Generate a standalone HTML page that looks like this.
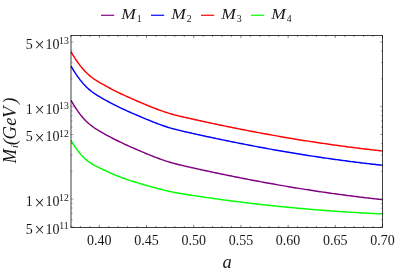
<!DOCTYPE html>
<html><head><meta charset="utf-8"><title>plot</title>
<style>
html,body{margin:0;padding:0;background:#fff;}
svg{display:block;font-family:"Liberation Serif",serif;}
</style></head><body>
<svg width="395" height="276" viewBox="0 0 395 276">
<defs><filter id="nf" x="0" y="0" width="100%" height="100%" filterUnits="userSpaceOnUse" color-interpolation-filters="sRGB"><feOffset dx="0" dy="0"/></filter></defs>
<rect width="395" height="276" fill="#fff"/>
<g fill="none" stroke-width="1.45" stroke-linejoin="round" stroke-linecap="butt">
<path d="M71.0,100.46 L72.5,102.99 L74.0,105.41 L75.5,107.74 L77.0,109.96 L78.5,112.08 L80.0,114.09 L81.5,115.99 L83.0,117.78 L84.5,119.45 L86.0,121.01 L87.5,122.45 L89.0,123.78 L90.5,125.02 L92.0,126.18 L93.5,127.26 L95.0,128.28 L96.5,129.25 L98.0,130.18 L99.5,131.08 L101.0,131.96 L102.5,132.83 L104.0,133.68 L105.5,134.51 L107.0,135.34 L108.5,136.15 L110.0,136.94 L111.5,137.73 L113.0,138.50 L114.5,139.27 L116.0,140.02 L117.5,140.76 L119.0,141.49 L120.5,142.21 L122.0,142.93 L123.5,143.63 L125.0,144.33 L126.5,145.02 L128.0,145.70 L129.5,146.37 L131.0,147.04 L132.5,147.70 L134.0,148.36 L135.5,149.01 L137.0,149.66 L138.5,150.30 L140.0,150.94 L141.5,151.57 L143.0,152.20 L144.5,152.83 L146.0,153.46 L147.5,154.08 L149.0,154.69 L150.5,155.30 L152.0,155.91 L153.5,156.50 L155.0,157.09 L156.5,157.67 L158.0,158.23 L159.5,158.79 L161.0,159.33 L162.5,159.87 L164.0,160.38 L165.5,160.89 L167.0,161.37 L168.5,161.84 L170.0,162.30 L171.5,162.73 L173.0,163.15 L174.5,163.56 L176.0,163.95 L177.5,164.32 L179.0,164.69 L180.5,165.05 L182.0,165.40 L183.5,165.75 L185.0,166.09 L186.5,166.43 L188.0,166.77 L189.5,167.11 L191.0,167.45 L192.5,167.78 L194.0,168.12 L195.5,168.45 L197.0,168.78 L198.5,169.11 L200.0,169.44 L201.5,169.77 L203.0,170.10 L204.5,170.42 L206.0,170.75 L207.5,171.07 L209.0,171.40 L210.5,171.72 L212.0,172.04 L213.5,172.36 L215.0,172.67 L216.5,172.99 L218.0,173.30 L219.5,173.62 L221.0,173.93 L222.5,174.24 L224.0,174.55 L225.5,174.86 L227.0,175.17 L228.5,175.48 L230.0,175.78 L231.5,176.08 L233.0,176.39 L234.5,176.69 L236.0,176.99 L237.5,177.29 L239.0,177.58 L240.5,177.88 L242.0,178.18 L243.5,178.47 L245.0,178.76 L246.5,179.05 L248.0,179.34 L249.5,179.63 L251.0,179.92 L252.5,180.20 L254.0,180.49 L255.5,180.77 L257.0,181.05 L258.5,181.33 L260.0,181.61 L261.5,181.89 L263.0,182.17 L264.5,182.44 L266.0,182.72 L267.5,182.99 L269.0,183.26 L270.5,183.53 L272.0,183.80 L273.5,184.07 L275.0,184.33 L276.5,184.60 L278.0,184.86 L279.5,185.12 L281.0,185.38 L282.5,185.64 L284.0,185.90 L285.5,186.15 L287.0,186.41 L288.5,186.66 L290.0,186.91 L291.5,187.17 L293.0,187.41 L294.5,187.66 L296.0,187.91 L297.5,188.15 L299.0,188.40 L300.5,188.64 L302.0,188.88 L303.5,189.12 L305.0,189.36 L306.5,189.60 L308.0,189.83 L309.5,190.06 L311.0,190.30 L312.5,190.53 L314.0,190.76 L315.5,190.98 L317.0,191.21 L318.5,191.44 L320.0,191.66 L321.5,191.88 L323.0,192.10 L324.5,192.32 L326.0,192.54 L327.5,192.76 L329.0,192.97 L330.5,193.19 L332.0,193.40 L333.5,193.61 L335.0,193.82 L336.5,194.03 L338.0,194.23 L339.5,194.44 L341.0,194.64 L342.5,194.84 L344.0,195.04 L345.5,195.24 L347.0,195.44 L348.5,195.63 L350.0,195.83 L351.5,196.02 L353.0,196.21 L354.5,196.40 L356.0,196.59 L357.5,196.77 L359.0,196.96 L360.5,197.14 L362.0,197.33 L363.5,197.51 L365.0,197.68 L366.5,197.86 L368.0,198.04 L369.5,198.21 L371.0,198.38 L372.5,198.56 L374.0,198.73 L375.5,198.89 L377.0,199.06 L378.5,199.23 L380.0,199.39 L381.5,199.55 L382.5,199.66" stroke="#800080"/>
<path d="M71.0,66.06 L72.5,68.59 L74.0,71.01 L75.5,73.34 L77.0,75.56 L78.5,77.68 L80.0,79.69 L81.5,81.59 L83.0,83.38 L84.5,85.05 L86.0,86.61 L87.5,88.05 L89.0,89.38 L90.5,90.62 L92.0,91.78 L93.5,92.86 L95.0,93.88 L96.5,94.85 L98.0,95.78 L99.5,96.68 L101.0,97.56 L102.5,98.43 L104.0,99.28 L105.5,100.11 L107.0,100.94 L108.5,101.75 L110.0,102.54 L111.5,103.33 L113.0,104.10 L114.5,104.87 L116.0,105.62 L117.5,106.36 L119.0,107.09 L120.5,107.81 L122.0,108.53 L123.5,109.23 L125.0,109.93 L126.5,110.62 L128.0,111.30 L129.5,111.97 L131.0,112.64 L132.5,113.30 L134.0,113.96 L135.5,114.61 L137.0,115.26 L138.5,115.90 L140.0,116.54 L141.5,117.17 L143.0,117.80 L144.5,118.43 L146.0,119.06 L147.5,119.68 L149.0,120.29 L150.5,120.90 L152.0,121.51 L153.5,122.10 L155.0,122.69 L156.5,123.27 L158.0,123.83 L159.5,124.39 L161.0,124.93 L162.5,125.47 L164.0,125.98 L165.5,126.49 L167.0,126.97 L168.5,127.44 L170.0,127.90 L171.5,128.33 L173.0,128.75 L174.5,129.16 L176.0,129.55 L177.5,129.92 L179.0,130.29 L180.5,130.65 L182.0,131.00 L183.5,131.35 L185.0,131.69 L186.5,132.03 L188.0,132.37 L189.5,132.71 L191.0,133.05 L192.5,133.38 L194.0,133.72 L195.5,134.05 L197.0,134.38 L198.5,134.71 L200.0,135.04 L201.5,135.37 L203.0,135.70 L204.5,136.02 L206.0,136.35 L207.5,136.67 L209.0,137.00 L210.5,137.32 L212.0,137.64 L213.5,137.96 L215.0,138.27 L216.5,138.59 L218.0,138.90 L219.5,139.22 L221.0,139.53 L222.5,139.84 L224.0,140.15 L225.5,140.46 L227.0,140.77 L228.5,141.08 L230.0,141.38 L231.5,141.68 L233.0,141.99 L234.5,142.29 L236.0,142.59 L237.5,142.89 L239.0,143.18 L240.5,143.48 L242.0,143.78 L243.5,144.07 L245.0,144.36 L246.5,144.65 L248.0,144.94 L249.5,145.23 L251.0,145.52 L252.5,145.80 L254.0,146.09 L255.5,146.37 L257.0,146.65 L258.5,146.93 L260.0,147.21 L261.5,147.49 L263.0,147.77 L264.5,148.04 L266.0,148.32 L267.5,148.59 L269.0,148.86 L270.5,149.13 L272.0,149.40 L273.5,149.67 L275.0,149.93 L276.5,150.20 L278.0,150.46 L279.5,150.72 L281.0,150.98 L282.5,151.24 L284.0,151.50 L285.5,151.75 L287.0,152.01 L288.5,152.26 L290.0,152.51 L291.5,152.77 L293.0,153.01 L294.5,153.26 L296.0,153.51 L297.5,153.75 L299.0,154.00 L300.5,154.24 L302.0,154.48 L303.5,154.72 L305.0,154.96 L306.5,155.20 L308.0,155.43 L309.5,155.66 L311.0,155.90 L312.5,156.13 L314.0,156.36 L315.5,156.58 L317.0,156.81 L318.5,157.04 L320.0,157.26 L321.5,157.48 L323.0,157.70 L324.5,157.92 L326.0,158.14 L327.5,158.36 L329.0,158.57 L330.5,158.79 L332.0,159.00 L333.5,159.21 L335.0,159.42 L336.5,159.63 L338.0,159.83 L339.5,160.04 L341.0,160.24 L342.5,160.44 L344.0,160.64 L345.5,160.84 L347.0,161.04 L348.5,161.23 L350.0,161.43 L351.5,161.62 L353.0,161.81 L354.5,162.00 L356.0,162.19 L357.5,162.37 L359.0,162.56 L360.5,162.74 L362.0,162.93 L363.5,163.11 L365.0,163.28 L366.5,163.46 L368.0,163.64 L369.5,163.81 L371.0,163.98 L372.5,164.16 L374.0,164.33 L375.5,164.49 L377.0,164.66 L378.5,164.83 L380.0,164.99 L381.5,165.15 L382.5,165.26" stroke="#0000ff"/>
<path d="M71.0,51.76 L72.5,54.29 L74.0,56.71 L75.5,59.04 L77.0,61.26 L78.5,63.38 L80.0,65.39 L81.5,67.29 L83.0,69.08 L84.5,70.75 L86.0,72.31 L87.5,73.75 L89.0,75.08 L90.5,76.32 L92.0,77.48 L93.5,78.56 L95.0,79.58 L96.5,80.55 L98.0,81.48 L99.5,82.38 L101.0,83.26 L102.5,84.13 L104.0,84.98 L105.5,85.81 L107.0,86.64 L108.5,87.45 L110.0,88.24 L111.5,89.03 L113.0,89.80 L114.5,90.57 L116.0,91.32 L117.5,92.06 L119.0,92.79 L120.5,93.51 L122.0,94.23 L123.5,94.93 L125.0,95.63 L126.5,96.32 L128.0,97.00 L129.5,97.67 L131.0,98.34 L132.5,99.00 L134.0,99.66 L135.5,100.31 L137.0,100.96 L138.5,101.60 L140.0,102.24 L141.5,102.87 L143.0,103.50 L144.5,104.13 L146.0,104.76 L147.5,105.38 L149.0,105.99 L150.5,106.60 L152.0,107.21 L153.5,107.80 L155.0,108.39 L156.5,108.97 L158.0,109.53 L159.5,110.09 L161.0,110.63 L162.5,111.17 L164.0,111.68 L165.5,112.19 L167.0,112.67 L168.5,113.14 L170.0,113.60 L171.5,114.03 L173.0,114.45 L174.5,114.86 L176.0,115.25 L177.5,115.62 L179.0,115.99 L180.5,116.35 L182.0,116.70 L183.5,117.05 L185.0,117.39 L186.5,117.73 L188.0,118.07 L189.5,118.41 L191.0,118.75 L192.5,119.08 L194.0,119.42 L195.5,119.75 L197.0,120.08 L198.5,120.41 L200.0,120.74 L201.5,121.07 L203.0,121.40 L204.5,121.72 L206.0,122.05 L207.5,122.37 L209.0,122.70 L210.5,123.02 L212.0,123.34 L213.5,123.66 L215.0,123.97 L216.5,124.29 L218.0,124.60 L219.5,124.92 L221.0,125.23 L222.5,125.54 L224.0,125.85 L225.5,126.16 L227.0,126.47 L228.5,126.78 L230.0,127.08 L231.5,127.38 L233.0,127.69 L234.5,127.99 L236.0,128.29 L237.5,128.59 L239.0,128.88 L240.5,129.18 L242.0,129.48 L243.5,129.77 L245.0,130.06 L246.5,130.35 L248.0,130.64 L249.5,130.93 L251.0,131.22 L252.5,131.50 L254.0,131.79 L255.5,132.07 L257.0,132.35 L258.5,132.63 L260.0,132.91 L261.5,133.19 L263.0,133.47 L264.5,133.74 L266.0,134.02 L267.5,134.29 L269.0,134.56 L270.5,134.83 L272.0,135.10 L273.5,135.37 L275.0,135.63 L276.5,135.90 L278.0,136.16 L279.5,136.42 L281.0,136.68 L282.5,136.94 L284.0,137.20 L285.5,137.45 L287.0,137.71 L288.5,137.96 L290.0,138.21 L291.5,138.47 L293.0,138.71 L294.5,138.96 L296.0,139.21 L297.5,139.45 L299.0,139.70 L300.5,139.94 L302.0,140.18 L303.5,140.42 L305.0,140.66 L306.5,140.90 L308.0,141.13 L309.5,141.36 L311.0,141.60 L312.5,141.83 L314.0,142.06 L315.5,142.28 L317.0,142.51 L318.5,142.74 L320.0,142.96 L321.5,143.18 L323.0,143.40 L324.5,143.62 L326.0,143.84 L327.5,144.06 L329.0,144.27 L330.5,144.49 L332.0,144.70 L333.5,144.91 L335.0,145.12 L336.5,145.33 L338.0,145.53 L339.5,145.74 L341.0,145.94 L342.5,146.14 L344.0,146.34 L345.5,146.54 L347.0,146.74 L348.5,146.93 L350.0,147.13 L351.5,147.32 L353.0,147.51 L354.5,147.70 L356.0,147.89 L357.5,148.07 L359.0,148.26 L360.5,148.44 L362.0,148.63 L363.5,148.81 L365.0,148.98 L366.5,149.16 L368.0,149.34 L369.5,149.51 L371.0,149.68 L372.5,149.86 L374.0,150.03 L375.5,150.19 L377.0,150.36 L378.5,150.53 L380.0,150.69 L381.5,150.85 L382.5,150.96" stroke="#ff0000"/>
<path d="M71.0,140.41 L72.5,142.89 L74.0,145.25 L75.5,147.48 L77.0,149.59 L78.5,151.57 L80.0,153.42 L81.5,155.15 L83.0,156.75 L84.5,158.23 L86.0,159.59 L87.5,160.83 L89.0,161.96 L90.5,162.98 L92.0,163.91 L93.5,164.77 L95.0,165.58 L96.5,166.34 L98.0,167.08 L99.5,167.81 L101.0,168.54 L102.5,169.27 L104.0,169.99 L105.5,170.70 L107.0,171.40 L108.5,172.10 L110.0,172.78 L111.5,173.46 L113.0,174.11 L114.5,174.76 L116.0,175.38 L117.5,175.99 L119.0,176.58 L120.5,177.16 L122.0,177.72 L123.5,178.27 L125.0,178.80 L126.5,179.32 L128.0,179.83 L129.5,180.33 L131.0,180.82 L132.5,181.29 L134.0,181.76 L135.5,182.23 L137.0,182.68 L138.5,183.13 L140.0,183.57 L141.5,184.01 L143.0,184.44 L144.5,184.87 L146.0,185.30 L147.5,185.73 L149.0,186.15 L150.5,186.58 L152.0,186.99 L153.5,187.41 L155.0,187.82 L156.5,188.22 L158.0,188.62 L159.5,189.01 L161.0,189.39 L162.5,189.77 L164.0,190.14 L165.5,190.50 L167.0,190.85 L168.5,191.19 L170.0,191.52 L171.5,191.84 L173.0,192.15 L174.5,192.45 L176.0,192.73 L177.5,193.01 L179.0,193.27 L180.5,193.53 L182.0,193.78 L183.5,194.03 L185.0,194.26 L186.5,194.50 L188.0,194.73 L189.5,194.97 L191.0,195.20 L192.5,195.42 L194.0,195.65 L195.5,195.88 L197.0,196.10 L198.5,196.33 L200.0,196.55 L201.5,196.77 L203.0,196.99 L204.5,197.21 L206.0,197.42 L207.5,197.64 L209.0,197.85 L210.5,198.07 L212.0,198.28 L213.5,198.49 L215.0,198.70 L216.5,198.90 L218.0,199.11 L219.5,199.31 L221.0,199.52 L222.5,199.72 L224.0,199.92 L225.5,200.12 L227.0,200.32 L228.5,200.52 L230.0,200.71 L231.5,200.91 L233.0,201.10 L234.5,201.29 L236.0,201.48 L237.5,201.67 L239.0,201.86 L240.5,202.05 L242.0,202.23 L243.5,202.41 L245.0,202.60 L246.5,202.78 L248.0,202.96 L249.5,203.14 L251.0,203.31 L252.5,203.49 L254.0,203.67 L255.5,203.84 L257.0,204.01 L258.5,204.18 L260.0,204.35 L261.5,204.52 L263.0,204.69 L264.5,204.85 L266.0,205.02 L267.5,205.18 L269.0,205.34 L270.5,205.50 L272.0,205.66 L273.5,205.82 L275.0,205.98 L276.5,206.13 L278.0,206.29 L279.5,206.44 L281.0,206.59 L282.5,206.74 L284.0,206.89 L285.5,207.04 L287.0,207.18 L288.5,207.33 L290.0,207.47 L291.5,207.62 L293.0,207.76 L294.5,207.90 L296.0,208.04 L297.5,208.17 L299.0,208.31 L300.5,208.45 L302.0,208.58 L303.5,208.71 L305.0,208.84 L306.5,208.97 L308.0,209.10 L309.5,209.23 L311.0,209.36 L312.5,209.48 L314.0,209.60 L315.5,209.73 L317.0,209.85 L318.5,209.97 L320.0,210.09 L321.5,210.20 L323.0,210.32 L324.5,210.44 L326.0,210.55 L327.5,210.66 L329.0,210.77 L330.5,210.88 L332.0,210.99 L333.5,211.10 L335.0,211.21 L336.5,211.31 L338.0,211.41 L339.5,211.52 L341.0,211.62 L342.5,211.72 L344.0,211.82 L345.5,211.91 L347.0,212.01 L348.5,212.11 L350.0,212.20 L351.5,212.29 L353.0,212.38 L354.5,212.47 L356.0,212.56 L357.5,212.65 L359.0,212.74 L360.5,212.82 L362.0,212.91 L363.5,212.99 L365.0,213.07 L366.5,213.15 L368.0,213.23 L369.5,213.31 L371.0,213.39 L372.5,213.46 L374.0,213.54 L375.5,213.61 L377.0,213.68 L378.5,213.75 L380.0,213.82 L381.5,213.89 L382.5,213.93" stroke="#00ff00"/>
</g>
<g stroke="#444" stroke-width="0.65">
<line x1="71.00" y1="227.4" x2="71.00" y2="226.00"/>
<line x1="71.00" y1="35.5" x2="71.00" y2="36.90"/>
<line x1="80.44" y1="227.4" x2="80.44" y2="226.00"/>
<line x1="80.44" y1="35.5" x2="80.44" y2="36.90"/>
<line x1="89.88" y1="227.4" x2="89.88" y2="226.00"/>
<line x1="89.88" y1="35.5" x2="89.88" y2="36.90"/>
<line x1="99.32" y1="227.4" x2="99.32" y2="224.90"/>
<line x1="99.32" y1="35.5" x2="99.32" y2="38.00"/>
<line x1="108.76" y1="227.4" x2="108.76" y2="226.00"/>
<line x1="108.76" y1="35.5" x2="108.76" y2="36.90"/>
<line x1="118.20" y1="227.4" x2="118.20" y2="226.00"/>
<line x1="118.20" y1="35.5" x2="118.20" y2="36.90"/>
<line x1="127.64" y1="227.4" x2="127.64" y2="226.00"/>
<line x1="127.64" y1="35.5" x2="127.64" y2="36.90"/>
<line x1="137.08" y1="227.4" x2="137.08" y2="226.00"/>
<line x1="137.08" y1="35.5" x2="137.08" y2="36.90"/>
<line x1="146.52" y1="227.4" x2="146.52" y2="224.90"/>
<line x1="146.52" y1="35.5" x2="146.52" y2="38.00"/>
<line x1="155.95" y1="227.4" x2="155.95" y2="226.00"/>
<line x1="155.95" y1="35.5" x2="155.95" y2="36.90"/>
<line x1="165.39" y1="227.4" x2="165.39" y2="226.00"/>
<line x1="165.39" y1="35.5" x2="165.39" y2="36.90"/>
<line x1="174.83" y1="227.4" x2="174.83" y2="226.00"/>
<line x1="174.83" y1="35.5" x2="174.83" y2="36.90"/>
<line x1="184.27" y1="227.4" x2="184.27" y2="226.00"/>
<line x1="184.27" y1="35.5" x2="184.27" y2="36.90"/>
<line x1="193.71" y1="227.4" x2="193.71" y2="224.90"/>
<line x1="193.71" y1="35.5" x2="193.71" y2="38.00"/>
<line x1="203.15" y1="227.4" x2="203.15" y2="226.00"/>
<line x1="203.15" y1="35.5" x2="203.15" y2="36.90"/>
<line x1="212.59" y1="227.4" x2="212.59" y2="226.00"/>
<line x1="212.59" y1="35.5" x2="212.59" y2="36.90"/>
<line x1="222.03" y1="227.4" x2="222.03" y2="226.00"/>
<line x1="222.03" y1="35.5" x2="222.03" y2="36.90"/>
<line x1="231.47" y1="227.4" x2="231.47" y2="226.00"/>
<line x1="231.47" y1="35.5" x2="231.47" y2="36.90"/>
<line x1="240.91" y1="227.4" x2="240.91" y2="224.90"/>
<line x1="240.91" y1="35.5" x2="240.91" y2="38.00"/>
<line x1="250.35" y1="227.4" x2="250.35" y2="226.00"/>
<line x1="250.35" y1="35.5" x2="250.35" y2="36.90"/>
<line x1="259.79" y1="227.4" x2="259.79" y2="226.00"/>
<line x1="259.79" y1="35.5" x2="259.79" y2="36.90"/>
<line x1="269.23" y1="227.4" x2="269.23" y2="226.00"/>
<line x1="269.23" y1="35.5" x2="269.23" y2="36.90"/>
<line x1="278.67" y1="227.4" x2="278.67" y2="226.00"/>
<line x1="278.67" y1="35.5" x2="278.67" y2="36.90"/>
<line x1="288.11" y1="227.4" x2="288.11" y2="224.90"/>
<line x1="288.11" y1="35.5" x2="288.11" y2="38.00"/>
<line x1="297.55" y1="227.4" x2="297.55" y2="226.00"/>
<line x1="297.55" y1="35.5" x2="297.55" y2="36.90"/>
<line x1="306.98" y1="227.4" x2="306.98" y2="226.00"/>
<line x1="306.98" y1="35.5" x2="306.98" y2="36.90"/>
<line x1="316.42" y1="227.4" x2="316.42" y2="226.00"/>
<line x1="316.42" y1="35.5" x2="316.42" y2="36.90"/>
<line x1="325.86" y1="227.4" x2="325.86" y2="226.00"/>
<line x1="325.86" y1="35.5" x2="325.86" y2="36.90"/>
<line x1="335.30" y1="227.4" x2="335.30" y2="224.90"/>
<line x1="335.30" y1="35.5" x2="335.30" y2="38.00"/>
<line x1="344.74" y1="227.4" x2="344.74" y2="226.00"/>
<line x1="344.74" y1="35.5" x2="344.74" y2="36.90"/>
<line x1="354.18" y1="227.4" x2="354.18" y2="226.00"/>
<line x1="354.18" y1="35.5" x2="354.18" y2="36.90"/>
<line x1="363.62" y1="227.4" x2="363.62" y2="226.00"/>
<line x1="363.62" y1="35.5" x2="363.62" y2="36.90"/>
<line x1="373.06" y1="227.4" x2="373.06" y2="226.00"/>
<line x1="373.06" y1="35.5" x2="373.06" y2="36.90"/>
<line x1="382.50" y1="227.4" x2="382.50" y2="224.90"/>
<line x1="382.50" y1="35.5" x2="382.50" y2="38.00"/>
<line x1="71.0" y1="227.00" x2="73.6" y2="227.00" stroke-width="0.45"/>
<line x1="382.5" y1="227.00" x2="379.9" y2="227.00" stroke-width="0.45"/>
<line x1="71.0" y1="219.68" x2="72.6" y2="219.68" stroke-width="0.45"/>
<line x1="382.5" y1="219.68" x2="380.9" y2="219.68" stroke-width="0.45"/>
<line x1="71.0" y1="213.48" x2="72.6" y2="213.48" stroke-width="0.45"/>
<line x1="382.5" y1="213.48" x2="380.9" y2="213.48" stroke-width="0.45"/>
<line x1="71.0" y1="208.12" x2="72.6" y2="208.12" stroke-width="0.45"/>
<line x1="382.5" y1="208.12" x2="380.9" y2="208.12" stroke-width="0.45"/>
<line x1="71.0" y1="203.39" x2="72.6" y2="203.39" stroke-width="0.45"/>
<line x1="382.5" y1="203.39" x2="380.9" y2="203.39" stroke-width="0.45"/>
<line x1="71.0" y1="199.15" x2="73.6" y2="199.15" stroke-width="0.45"/>
<line x1="382.5" y1="199.15" x2="379.9" y2="199.15" stroke-width="0.45"/>
<line x1="71.0" y1="171.31" x2="72.6" y2="171.31" stroke-width="0.45"/>
<line x1="382.5" y1="171.31" x2="380.9" y2="171.31" stroke-width="0.45"/>
<line x1="71.0" y1="155.02" x2="72.6" y2="155.02" stroke-width="0.45"/>
<line x1="382.5" y1="155.02" x2="380.9" y2="155.02" stroke-width="0.45"/>
<line x1="71.0" y1="143.46" x2="72.6" y2="143.46" stroke-width="0.45"/>
<line x1="382.5" y1="143.46" x2="380.9" y2="143.46" stroke-width="0.45"/>
<line x1="71.0" y1="134.50" x2="73.6" y2="134.50" stroke-width="0.45"/>
<line x1="382.5" y1="134.50" x2="379.9" y2="134.50" stroke-width="0.45"/>
<line x1="71.0" y1="127.18" x2="72.6" y2="127.18" stroke-width="0.45"/>
<line x1="382.5" y1="127.18" x2="380.9" y2="127.18" stroke-width="0.45"/>
<line x1="71.0" y1="120.98" x2="72.6" y2="120.98" stroke-width="0.45"/>
<line x1="382.5" y1="120.98" x2="380.9" y2="120.98" stroke-width="0.45"/>
<line x1="71.0" y1="115.62" x2="72.6" y2="115.62" stroke-width="0.45"/>
<line x1="382.5" y1="115.62" x2="380.9" y2="115.62" stroke-width="0.45"/>
<line x1="71.0" y1="110.89" x2="72.6" y2="110.89" stroke-width="0.45"/>
<line x1="382.5" y1="110.89" x2="380.9" y2="110.89" stroke-width="0.45"/>
<line x1="71.0" y1="106.65" x2="73.6" y2="106.65" stroke-width="0.45"/>
<line x1="382.5" y1="106.65" x2="379.9" y2="106.65" stroke-width="0.45"/>
<line x1="71.0" y1="78.81" x2="72.6" y2="78.81" stroke-width="0.45"/>
<line x1="382.5" y1="78.81" x2="380.9" y2="78.81" stroke-width="0.45"/>
<line x1="71.0" y1="62.52" x2="72.6" y2="62.52" stroke-width="0.45"/>
<line x1="382.5" y1="62.52" x2="380.9" y2="62.52" stroke-width="0.45"/>
<line x1="71.0" y1="50.96" x2="72.6" y2="50.96" stroke-width="0.45"/>
<line x1="382.5" y1="50.96" x2="380.9" y2="50.96" stroke-width="0.45"/>
<line x1="71.0" y1="42.00" x2="73.6" y2="42.00" stroke-width="0.45"/>
<line x1="382.5" y1="42.00" x2="379.9" y2="42.00" stroke-width="0.45"/>
</g>
<rect x="71.0" y="35.45" width="311.5" height="191.95000000000002" fill="none" stroke="#000" stroke-width="0.75"/>
<g fill="#000" opacity="0.9" filter="url(#nf)">
<text x="29.3" y="48.9" text-anchor="middle" font-size="14">5</text>
<text x="39.6" y="51.4" text-anchor="middle" font-size="18">×</text>
<text x="52.6" y="48.9" text-anchor="middle" font-size="14">10</text>
<text x="63.9" y="44.2" text-anchor="middle" font-size="9.8">13</text>
<text x="29.3" y="113.6" text-anchor="middle" font-size="14">1</text>
<text x="39.6" y="116.1" text-anchor="middle" font-size="18">×</text>
<text x="52.6" y="113.6" text-anchor="middle" font-size="14">10</text>
<text x="63.9" y="108.9" text-anchor="middle" font-size="9.8">13</text>
<text x="29.3" y="141.4" text-anchor="middle" font-size="14">5</text>
<text x="39.6" y="143.9" text-anchor="middle" font-size="18">×</text>
<text x="52.6" y="141.4" text-anchor="middle" font-size="14">10</text>
<text x="63.9" y="136.7" text-anchor="middle" font-size="9.8">12</text>
<text x="29.3" y="206.1" text-anchor="middle" font-size="14">1</text>
<text x="39.6" y="208.6" text-anchor="middle" font-size="18">×</text>
<text x="52.6" y="206.1" text-anchor="middle" font-size="14">10</text>
<text x="63.9" y="201.4" text-anchor="middle" font-size="9.8">12</text>
<text x="29.3" y="233.5" text-anchor="middle" font-size="14">5</text>
<text x="39.6" y="236.0" text-anchor="middle" font-size="18">×</text>
<text x="52.6" y="233.5" text-anchor="middle" font-size="14">10</text>
<text x="63.9" y="228.8" text-anchor="middle" font-size="9.8">11</text>
<text x="99.3" y="245.4" text-anchor="middle" font-size="14">0.40</text>
<text x="146.5" y="245.4" text-anchor="middle" font-size="14">0.45</text>
<text x="193.7" y="245.4" text-anchor="middle" font-size="14">0.50</text>
<text x="240.9" y="245.4" text-anchor="middle" font-size="14">0.55</text>
<text x="288.1" y="245.4" text-anchor="middle" font-size="14">0.60</text>
<text x="335.3" y="245.4" text-anchor="middle" font-size="14">0.65</text>
<text x="382.5" y="245.4" text-anchor="middle" font-size="14">0.70</text>
<line x1="101" y1="15.3" x2="114.2" y2="15.3" stroke="#800080" stroke-width="1.3"/>
<text x="121.3" y="18.9" font-size="14.6" font-style="italic" textLength="14.6" lengthAdjust="spacingAndGlyphs">M</text>
<text x="136.8" y="21.6" font-size="9.8">1</text>
<line x1="151" y1="15.3" x2="164.2" y2="15.3" stroke="#0000ff" stroke-width="1.3"/>
<text x="171.3" y="18.9" font-size="14.6" font-style="italic" textLength="14.6" lengthAdjust="spacingAndGlyphs">M</text>
<text x="186.8" y="21.6" font-size="9.8">2</text>
<line x1="201" y1="15.3" x2="214.2" y2="15.3" stroke="#ff0000" stroke-width="1.3"/>
<text x="221.3" y="18.9" font-size="14.6" font-style="italic" textLength="14.6" lengthAdjust="spacingAndGlyphs">M</text>
<text x="236.8" y="21.6" font-size="9.8">3</text>
<line x1="251" y1="15.3" x2="264.2" y2="15.3" stroke="#00ff00" stroke-width="1.3"/>
<text x="271.3" y="18.9" font-size="14.6" font-style="italic" textLength="14.6" lengthAdjust="spacingAndGlyphs">M</text>
<text x="286.8" y="21.6" font-size="9.8">4</text>
<text x="227" y="267.6" text-anchor="middle" font-size="18.5" font-style="italic">a</text>
<g transform="translate(16.2,163.4) rotate(-90)" font-size="18.6" font-style="italic">
<text x="0.23" y="0" textLength="14.17" lengthAdjust="spacingAndGlyphs">M</text>
<text x="15.5" y="1.7" font-size="10.6">i</text>
<text x="18.1" y="0">(</text>
<text x="24.0" y="0">G</text>
<text x="37.65" y="0">e</text>
<text x="45.45" y="0">V</text>
<text x="59.6" y="0">)</text>
</g>
</g>
</svg>
</body></html>
